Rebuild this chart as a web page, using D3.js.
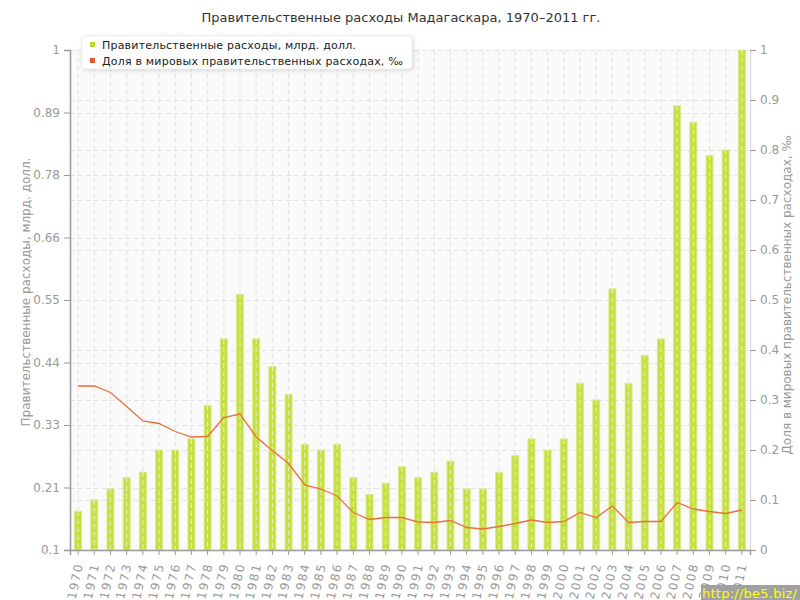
<!DOCTYPE html>
<html><head><meta charset="utf-8">
<script src="https://cdn.jsdelivr.net/npm/d3@7"></script>
<style>body{margin:0;background:#fff}svg{display:block}text{font-family:"DejaVu Sans",Verdana,sans-serif}</style>
</head><body>
<script>
const years = d3.range(1970, 2012).map(String);
const spending = [0.17,0.19,0.21,0.23,0.24,0.28,0.28,0.30,0.36,0.48,0.56,0.48,0.43,0.38,0.29,0.28,0.29,0.23,0.20,0.22,0.25,0.23,0.24,0.26,0.21,0.21,0.24,0.27,0.30,0.28,0.30,0.40,0.37,0.57,0.40,0.45,0.48,0.90,0.87,0.81,0.82,1.00];
const share = [0.328,0.328,0.315,0.287,0.258,0.253,0.237,0.226,0.227,0.265,0.272,0.226,0.199,0.173,0.130,0.122,0.108,0.075,0.061,0.065,0.065,0.056,0.055,0.059,0.045,0.042,0.047,0.053,0.060,0.055,0.057,0.075,0.065,0.088,0.055,0.057,0.057,0.095,0.082,0.077,0.073,0.080];
const leftTicks = [0.1,0.2125,0.325,0.4375,0.55,0.6625,0.775,0.8875,1];
const rightTicks = d3.range(0, 11).map(i => i / 10);
const title = "Правительственные расходы Мадагаскара, 1970–2011 гг.";
const seriesNames = ["Правительственные расходы, млрд. долл.", "Доля в мировых правительственных расходах, ‰"];
const leftTitle = "Правительственные расходы, млрд. долл.";
const rightTitle = "Доля в мировых правительственных расходах, ‰";

const W = 800, H = 600;
const m = {l: 70, r: 50, t: 50, b: 50};
const svg = d3.select("body").append("svg").attr("width", W).attr("height", H);

const x = d3.scaleBand().domain(years).range([m.l, W - m.r]);
const yL = d3.scaleLinear().domain([0.1, 1]).range([H - m.b, m.t]);
const yR = d3.scaleLinear().domain([0, 1]).range([H - m.b, m.t]);

svg.append("rect").attr("x", m.l).attr("y", m.t).attr("width", W - m.l - m.r).attr("height", H - m.t - m.b).attr("fill", "#fafafa");

svg.append("text").attr("x", 401).attr("y", 22).attr("text-anchor", "middle").attr("font-size", 13).attr("fill", "#333").text(title);

const grid = svg.append("g").attr("stroke", "#e2e2e2").attr("stroke-dasharray", "5,3").attr("fill", "none");
grid.selectAll(".gv").data(years).join("line")
  .attr("x1", d => x(d) + x.bandwidth() / 2).attr("x2", d => x(d) + x.bandwidth() / 2)
  .attr("y1", m.t).attr("y2", H - m.b);
grid.selectAll(".gl").data(leftTicks).join("line")
  .attr("x1", m.l).attr("x2", W - m.r).attr("y1", d => Math.round(yL(d)) + 0.5).attr("y2", d => Math.round(yL(d)) + 0.5);
grid.selectAll(".gr").data(rightTicks).join("line")
  .attr("x1", m.l).attr("x2", W - m.r).attr("y1", d => Math.round(yR(d)) + 0.5).attr("y2", d => Math.round(yR(d)) + 0.5);

const bw = 7;
svg.append("g").selectAll("rect").data(spending).join("rect")
  .attr("x", (d, i) => x(years[i]) + x.bandwidth() / 2 - bw / 2)
  .attr("width", bw)
  .attr("y", d => yL(d))
  .attr("height", d => yL(0.1) - yL(d))
  .attr("fill", "#c4df3f").attr("stroke", "#d9ec8a").attr("stroke-width", 1);

// light dashes over bars
svg.append("g").attr("stroke", "#f4f8e0").attr("stroke-dasharray", "5,3").selectAll("line").data(spending).join("line")
  .attr("x1", (d, i) => x(years[i]) + x.bandwidth() / 2).attr("x2", (d, i) => x(years[i]) + x.bandwidth() / 2)
  .attr("y1", d => Math.max(m.t, yL(d))).attr("y2", H - m.b).attr("stroke-opacity", 0.8);

const line = d3.line().x((d, i) => x(years[i]) + x.bandwidth() / 2).y(d => yR(d));
svg.append("path").datum(share).attr("d", line).attr("fill", "none").attr("stroke", "#e8703a").attr("stroke-width", 1.3);

// axes
const axL = svg.append("g").attr("transform", `translate(${m.l},0)`)
  .call(d3.axisLeft(yL).tickValues(leftTicks).tickFormat(d3.format(".2~f")).tickSize(6).tickPadding(4));
const axR = svg.append("g").attr("transform", `translate(${W - m.r},0)`)
  .call(d3.axisRight(yR).tickValues(rightTicks).tickFormat(d => d === 0 || d === 1 ? String(d) : d3.format(".1f")(d)).tickSize(6).tickPadding(4));
const axB = svg.append("g").attr("transform", `translate(0,${H - m.b})`)
  .call(d3.axisBottom(x).tickSize(5).tickPadding(4));
[axL, axR, axB].forEach(a => {
  a.select(".domain").attr("stroke", "#999").attr("stroke-width", 1.5);
  a.selectAll(".tick line").attr("stroke", "#999");
  a.selectAll(".tick text").attr("fill", "#999").attr("font-size", 12).attr("font-family", "DejaVu Sans, sans-serif");
});
axR.select(".domain").attr("stroke", "#ddd");
axB.selectAll(".tick text")
  .attr("x", 0).attr("y", 0).attr("dx", 0).attr("dy", "0.35em")
  .attr("text-anchor", "end")
  .attr("letter-spacing", "1.6px")
  .attr("transform", "translate(1,13) rotate(-78)");

svg.append("text").attr("transform", `translate(30,${(m.t + H - m.b) / 2 - 8}) rotate(-90)`).attr("text-anchor", "middle")
  .attr("font-size", 12).attr("fill", "#999").text(leftTitle);
svg.append("text").attr("transform", `translate(791,${(m.t + H - m.b) / 2 - 5}) rotate(-90)`).attr("text-anchor", "middle")
  .attr("font-size", 12).attr("fill", "#999").text(rightTitle);

// legend
const lg = svg.append("g");
lg.append("rect").attr("x", 82).attr("y", 36).attr("width", 330).attr("height", 33).attr("rx", 4)
  .attr("fill", "#fff").attr("stroke", "#eee").style("filter", "drop-shadow(1px 1px 2px rgba(0,0,0,0.15))");
const colors = ["#b5d92d", "#e05a2b"];
seriesNames.forEach((s, i) => {
  lg.append("rect").attr("x", 90).attr("y", 42 + i * 16).attr("width", 5).attr("height", 5).attr("fill", colors[i]);
  lg.append("text").attr("x", 102).attr("y", 49 + i * 16).attr("font-size", 11).attr("letter-spacing", "0.2px").attr("fill", "#222").text(s);
});

// watermark
svg.append("rect").attr("x", 701).attr("y", 585).attr("width", 99).attr("height", 15).attr("fill", "#a0a0a0");
svg.append("text").attr("x", 702).attr("y", 598).attr("font-size", 13).attr("fill", "#ffff00")
  .attr("textLength", 95).attr("lengthAdjust", "spacing").text("http://be5.biz/");
</script>
</body></html>
